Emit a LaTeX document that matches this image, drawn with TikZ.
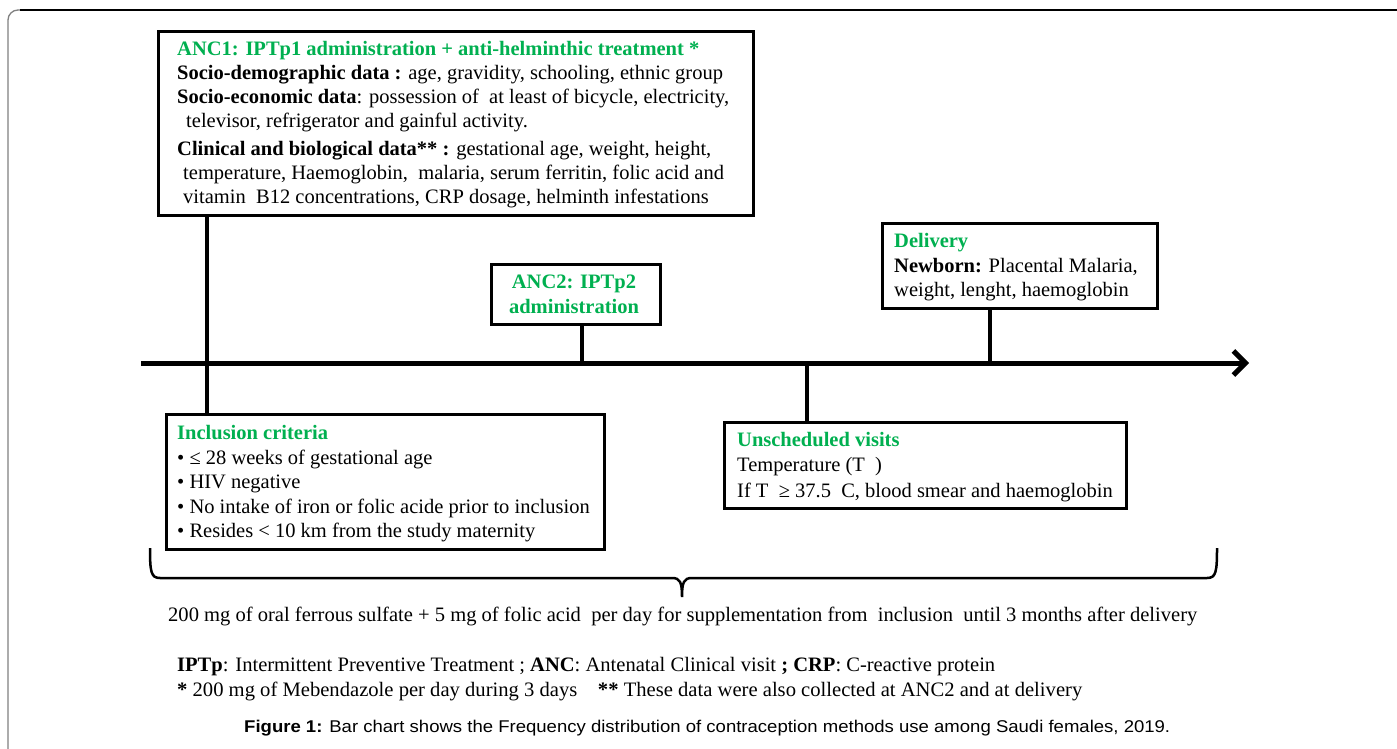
\documentclass[tikz,border=0pt]{standalone}
\usepackage{fontspec}
\setmainfont{Liberation Serif}
\setsansfont{Liberation Sans}
\usepackage{graphicx}
\usetikzlibrary{arrows.meta}
\definecolor{ggreen}{RGB}{0,176,80}
\begin{document}
\begin{tikzpicture}[x=1pt,y=-1pt,
  box/.style={draw=black,line width=3pt,inner sep=0pt,anchor=north west},
  txt/.style={anchor=base west,inner sep=0pt,font=\fontsize{20.5}{24}\selectfont},
  hd/.style={anchor=base west,inner sep=0pt,text=ggreen,font=\fontsize{20.5}{24}\selectfont\bfseries},
  conn/.style={line width=4pt},
  foot/.style={anchor=base west,inner sep=0pt,font=\fontsize{20.5}{24}\selectfont},
]
\useasboundingbox (0,0) rectangle (1397,749);
\fill[white] (0,0) rectangle (1397,749);
% outer frame
\draw[gray,line width=1.3pt,rounded corners=10pt] (8,760) -- (8,10) -- (1410,10);
\draw[black,line width=1.3pt] (20,10) -- (1410,10);
% boxes
\node[box,minimum width=595,minimum height=184] (anc1) at (157,30) {};
\node[box,minimum width=169,minimum height=60] (anc2) at (490,263) {};
\node[box,minimum width=275,minimum height=85] (deliv) at (881,222) {};
\node[box,minimum width=438,minimum height=135] (incl) at (165,413) {};
\node[box,minimum width=402,minimum height=86] (unsch) at (723,421) {};
% timeline
\coordinate (tl0) at (141,363);
\coordinate (tl1) at (1249,363);
\coordinate (c1) at (207,363);
\coordinate (c2) at (582,363);
\coordinate (c3) at (990,363);
\coordinate (c4) at (807,363);
\draw[conn] (anc1.south -| c1) -- (incl.north -| c1);
\draw[conn] (anc2.south -| c2) -- (c2);
\draw[conn] (deliv.south -| c3) -- (c3);
\draw[conn] (c4) -- (unsch.north -| c4);
\draw[line width=5pt,-{Straight Barb[length=12pt,width=24pt,line width=5pt]}] (tl0) -- (tl1);
% ANC1 text
\node[hd] (a1) at (177,56) {ANC1: IPTp1 administration + anti-helminthic treatment *};
\node[txt] (a2) at (177,80) {\textbf{Socio-demographic data :} age, gravidity, schooling, ethnic group};
\node[txt] (a3) at (177,104) {\textbf{Socio-economic data}: possession of\ \ at least of bicycle, electricity,};
\node[txt] (a4) at (186,128) {televisor, refrigerator and gainful activity.};
\node[txt] (a5) at (177,155) {\textbf{Clinical and biological data** :} gestational age, weight, height,};
\node[txt] (a6) at (183,179) {temperature, Haemoglobin,\ \ malaria, serum ferritin, folic acid and};
\node[txt] (a7) at (183,203) {vitamin\ \ B12 concentrations, CRP dosage, helminth infestations};
% ANC2 text
\node[hd,anchor=base] (b1) at (574,288) {ANC2: IPTp2};
\node[hd,anchor=base] (b2) at (574,313) {administration};
% Delivery
\node[hd] (d1) at (894,247) {Delivery};
\node[txt] (d2) at (894,272) {\textbf{Newborn:} Placental Malaria,};
\node[txt] (d3) at (894,296) {weight, lenght, haemoglobin};
% Inclusion
\node[hd] (i1) at (177,439) {Inclusion criteria};
\node[txt] (i2) at (177,464) {• ≤ 28 weeks of gestational age};
\node[txt] (i3) at (177,488) {• HIV negative};
\node[txt] (i4) at (177,513) {• No intake of iron or folic acide prior to inclusion};
\node[txt] (i5) at (177,537) {• Resides < 10 km from the study maternity};
% Unscheduled
\node[hd] (u1) at (737,446) {Unscheduled visits};
\node[txt] (u2) at (737,471) {Temperature (T\ \ )};
\node[txt] (u3) at (737,497) {If T\ \ ≥ 37.5\ \ C, blood smear and haemoglobin};
% brace
\draw[line width=2.5pt] (150,548) .. controls (150,572) and (151,578) .. (160,578) -- (672,578)
  .. controls (680,578) and (682,582) .. (682,597)
  .. controls (682,582) and (684,578) .. (692,578) -- (1207,578)
  .. controls (1216,578) and (1217,572) .. (1217,548);
\node[foot] (s1) at (168,621) {\resizebox{1029pt}{\height}{200 mg of oral ferrous sulfate + 5 mg of folic acid\ \ per day for supplementation from\ \ inclusion\ \ until 3 months after delivery}};
\node[foot] (f1) at (177,671) {\resizebox{818pt}{\height}{\textbf{IPTp}: Intermittent Preventive Treatment ; \textbf{ANC}: Antenatal Clinical visit \textbf{; CRP}: C-reactive protein}};
\node[foot] (f2) at (177,696) {\resizebox{905pt}{\height}{\textbf{*} 200 mg of Mebendazole per day during 3 days\ \ \ \ \textbf{**} These data were also collected at ANC2 and at delivery}};
\node[anchor=base west,inner sep=0pt,font=\sffamily\fontsize{17}{20}\selectfont] (cap) at (244,732) {\resizebox{926pt}{\height}{\textbf{Figure 1:} Bar chart shows the Frequency distribution of contraception methods use among Saudi females, 2019.}};
\end{tikzpicture}
\end{document}
